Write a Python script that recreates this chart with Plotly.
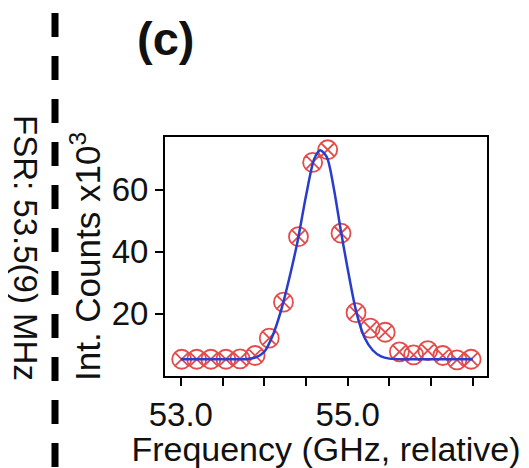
import plotly.graph_objects as go

# Measured data points (frequency in GHz relative, counts x10^3)
freq = [53.01, 53.19, 53.36, 53.54, 53.71, 53.89, 54.06, 54.23, 54.41, 54.58, 54.76,
        54.92, 55.10, 55.27, 55.45, 55.62, 55.79, 55.96, 56.14, 56.31, 56.48]
counts = [5.4, 5.4, 5.4, 5.4, 5.5, 6.6, 12.2, 23.8, 44.9, 68.8, 72.9,
          46.0, 20.4, 15.4, 14.1, 7.8, 6.8, 8.2, 6.6, 5.2, 5.4]

# Fit curve
fit_freq = [53.0, 53.4, 53.8, 53.9, 54.0, 54.1, 54.2, 54.3, 54.4, 54.5, 54.6, 54.67,
            54.75, 54.83, 54.92, 55.0, 55.1, 55.2, 55.3, 55.4, 55.5, 55.7, 56.1, 56.5]
fit_counts = [5.4, 5.4, 5.5, 6.0, 7.8, 13.0, 21.0, 31.5, 43.5, 58.0, 70.0, 72.7,
              70.5, 61.0, 46.5, 34.5, 21.0, 12.5, 8.3, 6.3, 5.6, 5.4, 5.4, 5.4]

x_tickvals = [53.0, 53.5, 54.0, 54.5, 55.0, 55.5, 56.0, 56.5]
x_ticktext = ["53.0", "", "", "", "55.0", "", "", ""]
y_tickvals = [20, 40, 60]
y_ticktext = ["20", "40", "60"]

FONT = "Liberation Sans, Arial, sans-serif"

fig = go.Figure()
fig.add_trace(go.Scatter(
    x=freq, y=counts, mode="markers",
    marker=dict(symbol="circle-x-open", size=19, color="rgb(228,75,75)",
                line=dict(width=1.8, color="rgb(228,75,75)")),
    showlegend=False))
fig.add_trace(go.Scatter(
    x=fit_freq, y=fit_counts, mode="lines",
    line=dict(color="rgb(40,60,205)", width=2.5, shape="spline", smoothing=0.8),
    showlegend=False))

axis_common = dict(showgrid=False, zeroline=False, showline=True, linecolor="black",
                   linewidth=2, mirror=True, ticks="outside", ticklen=8, tickwidth=2,
                   tickcolor="black", tickfont=dict(family=FONT, size=33, color="#111"))

fig.update_xaxes(range=[52.81, 56.67], tickvals=x_tickvals, ticktext=x_ticktext,
                 title=dict(text="Frequency (GHz, relative)",
                            font=dict(family=FONT, size=34, color="#111"), standoff=3),
                 **axis_common)
fig.update_yaxes(range=[0, 77], tickvals=y_tickvals, ticktext=y_ticktext,
                 title=dict(text="Int. Counts x10<sup>3</sup>",
                            font=dict(family=FONT, size=35, color="#111"), standoff=0),
                 **axis_common)

# The page body has an 8px margin, so the figure is drawn from (8, 8)
OFF = 8
W, H = 529 - OFF, 468 - OFF
L, R, T, B = 165 - OFF, 42, 137 - OFF, 92
pw, ph = W - L - R, H - T - B


def px(xp):  # page pixel -> paper x
    return (xp - OFF - L) / pw


def py(yp):  # page pixel -> paper y
    return (OFF + H - B - yp) / ph


fig.add_shape(type="line", xref="paper", yref="paper", x0=px(55), x1=px(55), y0=py(13), y1=py(480),
              line=dict(color="black", width=7, dash="24px,19px"))

fig.add_annotation(text="<b>(c)</b>", xref="paper", yref="paper", x=px(165), y=py(38),
                   xanchor="center", yanchor="middle",
                   showarrow=False, font=dict(family=FONT, size=47, color="#111"))
fig.add_annotation(text="FSR: 53.5(9) MHz", xref="paper", yref="paper", x=px(26), y=py(248),
                   xanchor="center", yanchor="middle",
                   showarrow=False, textangle=90, font=dict(family=FONT, size=33, color="#111"))

fig.update_layout(width=W, height=H, margin=dict(l=L, r=R, t=T, b=B, autoexpand=False),
                  paper_bgcolor="white", plot_bgcolor="white")

fig.write_html("out.html")
